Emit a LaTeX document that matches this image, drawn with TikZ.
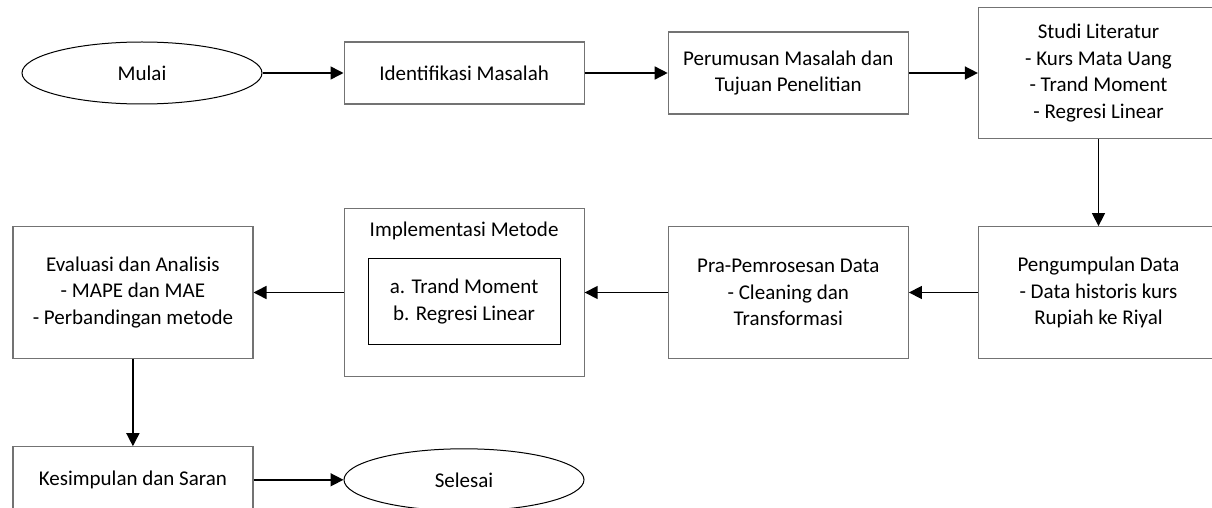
\documentclass[tikz,border=0pt]{standalone}
\usepackage{fontspec}
\setmainfont{Carlito}
\usetikzlibrary{shapes.geometric,arrows.meta,positioning}

\begin{document}
\begin{tikzpicture}[
			x=0.5pt, y=-0.5pt,
			font=\fontsize{10.5pt}{13.35pt}\selectfont,
			terminal/.style={ellipse, draw, line width=0.5pt, minimum width=120pt,
					minimum height=31pt, inner sep=0pt},
			box/.style={rectangle, draw=black!55, line width=0.6pt, minimum width=120pt,
					minimum height=31pt, align=center, inner sep=0pt},
			tallbox/.style={box, minimum height=65.8pt},
			innerbox/.style={rectangle, draw, line width=0.5pt, minimum width=96pt,
					minimum height=43pt, align=center, inner sep=0pt},
			arrow/.style={-{Triangle[length=6.5pt,width=6.5pt]}, line width=0.75pt}
		]
		\useasboundingbox (0,0) rectangle (1212,508);

		% Top row
		\node[terminal] (mulai) at (142,73) {Mulai};
		\node[box, right=40.5pt of mulai] (identifikasi) {Identifikasi Masalah};
		\node[box, minimum height=41pt, right=41.5pt of identifikasi] (perumusan) {Perumusan Masalah dan\\Tujuan Penelitian};
		\node[tallbox, right=34.5pt of perumusan] (studi) {Studi Literatur\\- Kurs Mata Uang\\- Trand Moment\\- Regresi Linear};

		% Middle row
		\node[tallbox, below=43.35pt of studi] (pengumpulan) {Pengumpulan Data\\- Data historis kurs\\Rupiah ke Riyal};
		\node[tallbox, left=34.5pt of pengumpulan] (pra) {Pra-Pemrosesan Data\\- Cleaning dan\\Transformasi};
		\node[box, minimum height=84pt, left=41.5pt of pra] (implementasi) {};
		\node (impljudul) at ([yshift=-11.5pt]implementasi.north) {Implementasi Metode};
		\node[innerbox] (metode) at ([yshift=-4.5pt]implementasi.center) {a. Trand Moment\\b. Regresi Linear};
		\node[tallbox, left=45pt of implementasi] (evaluasi) {Evaluasi dan Analisis\\- MAPE dan MAE\\- Perbandingan metode};

		% Bottom row
		\node[box, minimum height=33pt, below=43.65pt of evaluasi] (kesimpulan) {Kesimpulan dan Saran};
		\node[terminal, right=45pt of kesimpulan] (selesai) {Selesai};

		% Connections
		\draw[arrow] (mulai) -- (identifikasi);
		\draw[arrow] (identifikasi) -- (perumusan);
		\draw[arrow] (perumusan) -- (studi);
		\draw[arrow] (studi) -- (pengumpulan);
		\draw[arrow] (pengumpulan) -- (pra);
		\draw[arrow] (pra) -- (implementasi);
		\draw[arrow] (implementasi) -- (evaluasi);
		\draw[arrow] (evaluasi) -- (kesimpulan);
		\draw[arrow] (kesimpulan) -- (selesai);
	\end{tikzpicture}
\end{document}
